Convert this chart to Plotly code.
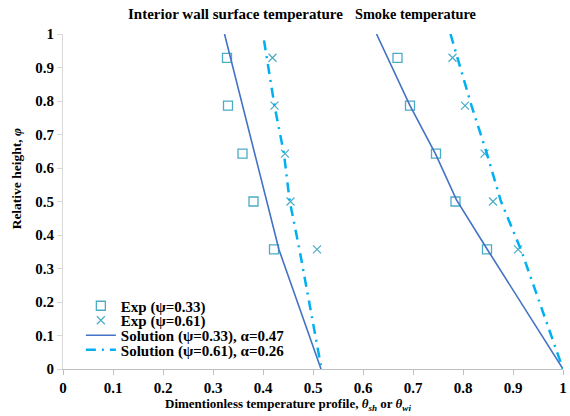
import plotly.graph_objects as go

# Experimental data: relative height (phi)
phi_exp = [0.929, 0.786, 0.643, 0.5, 0.357]

# Interior wall surface temperature
wall_exp_033 = [0.328, 0.330, 0.359, 0.381, 0.422]
wall_exp_061 = [0.419, 0.423, 0.444, 0.455, 0.508]
# Smoke temperature
smoke_exp_033 = [0.669, 0.694, 0.746, 0.785, 0.848]
smoke_exp_061 = [0.779, 0.804, 0.843, 0.860, 0.910]

# Analytical solutions
wall_sol_033_phi = [1.0, 0.505, 0.356, 0.0]
wall_sol_033_x = [0.323, 0.407, 0.432, 0.516]
wall_sol_061_phi = [0.981, 0.786, 0.642, 0.505, 0.356, 0.0]
wall_sol_061_x = [0.402, 0.423, 0.442, 0.453, 0.473, 0.517]

smoke_sol_033_phi = [1.0, 0.786, 0.642, 0.505, 0.356, 0.0]
smoke_sol_033_x = [0.627, 0.694, 0.745, 0.787, 0.849, 1.0]
smoke_sol_061_phi = [1.0, 0.786, 0.642, 0.5, 0.356, 0.0]
smoke_sol_061_x = [0.775, 0.817, 0.848, 0.876, 0.916, 1.0]

x_ticks = [0, 0.1, 0.2, 0.3, 0.4, 0.5, 0.6, 0.7, 0.8, 0.9, 1]
x_ticklabels = ["0", "0.1", "0.2", "0.3", "0.4", "0.5", "0.6", "0.7", "0.8", "0.9", "1"]
y_ticks = [0, 0.1, 0.2, 0.3, 0.4, 0.5, 0.6, 0.7, 0.8, 0.9, 1]
y_ticklabels = ["0", "0.1", "0.2", "0.3", "0.4", "0.5", "0.6", "0.7", "0.8", "0.9", "1"]

legend_names = ["Exp (ψ=0.33)", "Exp (ψ=0.61)",
                "Solution (ψ=0.33), α=0.47", "Solution (ψ=0.61), α=0.26"]

FONT = "Liberation Serif"
MARK = "#4BACC6"
SOLID = "#4472C4"
DASH = "#00B0F0"

# layout geometry (pixels)
W, H = 570, 416
L, R, T, B = 63, 3, 34, 47
PW, PH = W - L - R, H - T - B


def px_x(p):
    return (p - L) / PW


def px_y(p):
    return (H - B - p) / PH


fig = go.Figure()

fig.add_trace(go.Scatter(x=wall_exp_033 + [None] + smoke_exp_033,
                         y=phi_exp + [None] + phi_exp, mode="markers",
                         name="<b>%s</b>" % legend_names[0], legend="legend",
                         marker=dict(symbol="square-open", size=9, color=MARK,
                                     line=dict(width=1.3, color=MARK))))
fig.add_trace(go.Scatter(x=wall_exp_061 + [None] + smoke_exp_061,
                         y=phi_exp + [None] + phi_exp, mode="markers",
                         name="<b>%s</b>" % legend_names[1], legend="legend2",
                         marker=dict(symbol="x-thin-open", size=8, color=MARK,
                                     line=dict(width=1.2, color=MARK))))
fig.add_trace(go.Scatter(x=wall_sol_033_x + [None] + smoke_sol_033_x,
                         y=wall_sol_033_phi + [None] + smoke_sol_033_phi,
                         mode="lines", name="<b>%s</b>" % legend_names[2], legend="legend3",
                         line=dict(color=SOLID, width=1.6), cliponaxis=False))
fig.add_trace(go.Scatter(x=wall_sol_061_x + [None] + smoke_sol_061_x,
                         y=wall_sol_061_phi + [None] + smoke_sol_061_phi,
                         mode="lines", name="<b>%s</b>" % legend_names[3], legend="legend4",
                         line=dict(color=DASH, width=2.5, dash="10px,6px,2px,6px"),
                         cliponaxis=False))

fig.add_annotation(x=px_x(237), y=px_y(14), xref="paper", yref="paper",
                   text="<b>Interior wall surface temperature</b>", showarrow=False,
                   font=dict(family=FONT, size=15, color="black"),
                   xanchor="center", yanchor="middle")
fig.add_annotation(x=px_x(418), y=px_y(14), xref="paper", yref="paper",
                   text="<b>Smoke temperature</b>", showarrow=False,
                   font=dict(family=FONT, size=14.3, color="black"),
                   xanchor="center", yanchor="middle")
# axis titles (centred on the chart area, as in the reference)
fig.add_annotation(x=px_x(290), y=px_y(404), xref="paper", yref="paper",
                   text="<b>Dimentionless temperature profile, <i>θ<sub>sh</sub></i> or <i>θ<sub>wi</sub></i></b>",
                   showarrow=False, font=dict(family=FONT, size=13, color="black"),
                   xanchor="center", yanchor="middle")
fig.add_annotation(x=px_x(16), y=px_y(179), xref="paper", yref="paper",
                   text="<b>Relative height, <i>φ</i></b>", textangle=-90,
                   showarrow=False, font=dict(family=FONT, size=13.5, color="black"),
                   xanchor="center", yanchor="middle")

legend_rows = [306, 320.5, 335.5, 350]
legend_common = dict(x=px_x(81), xanchor="left", yanchor="middle",
                     bgcolor="rgba(0,0,0,0)", borderwidth=0,
                     font=dict(family=FONT, size=15, color="black"), itemwidth=30)
leg = {}
for i, key in enumerate(["legend", "legend2", "legend3", "legend4"]):
    leg[key] = dict(y=px_y(legend_rows[i]), **legend_common)

fig.update_layout(
    width=W, height=H,
    margin=dict(l=L, r=R, t=T, b=B),
    paper_bgcolor="white", plot_bgcolor="white",
    font=dict(family=FONT, size=15, color="black"),
    showlegend=True,
    **leg,
    xaxis=dict(range=[0, 1], tickvals=x_ticks,
               ticktext=["<b>%s</b>" % t for t in x_ticklabels],
               showgrid=False, zeroline=False, showline=True, linecolor="#BFBFBF",
               linewidth=1, ticks="outside", ticklen=5, tickcolor="#BFBFBF",
               tickfont=dict(family=FONT, size=15), ticklabeloverflow="allow"),
    yaxis=dict(range=[0, 1], tickvals=y_ticks,
               ticktext=["<b>%s</b>" % t for t in y_ticklabels],
               showgrid=False, zeroline=False, showline=True, linecolor="#D9D9D9",
               linewidth=1, ticks="outside", ticklen=5, tickcolor="#D9D9D9",
               tickfont=dict(family=FONT, size=15), ticklabeloverflow="allow"),
)

fig.write_html("out.html")
